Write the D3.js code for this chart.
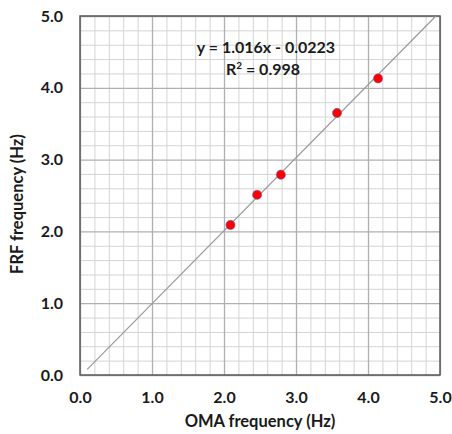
<!DOCTYPE html>
<html>
<head>
<meta charset="utf-8">
<script src="https://cdn.jsdelivr.net/npm/d3@7"></script>
<style>
  body { margin: 0; background: #fff; }
  text { font-family: Lato, "Open Sans", sans-serif; font-weight: 700; fill: #1a1a1a; }
</style>
</head>
<body>
<div id="chart"></div>
<script>
// data
var omaFreq = [2.09, 2.46, 2.79, 3.57, 4.14];
var frfFreq = [2.09, 2.51, 2.79, 3.65, 4.13];
var tickValues = [0, 1, 2, 3, 4, 5];
var fitSlope = 1.016;
var fitIntercept = -0.0223;
var fitRange = [0.1, 4.94];
var eqLabel = "y = 1.016x - 0.0223";
var r2Label = "0.998";

var svgWidth = 452, svgHeight = 434;
var margin = { top: 16, right: 12, bottom: 59, left: 80 };
var chartWidth = svgWidth - margin.left - margin.right;
var chartHeight = svgHeight - margin.top - margin.bottom;

var svg = d3.select("#chart").append("svg")
  .attr("width", svgWidth)
  .attr("height", svgHeight);

var chartGroup = svg.append("g")
  .attr("transform", `translate(${margin.left}, ${margin.top})`);

var xScale = d3.scaleLinear().domain([0, 5]).range([0, chartWidth]);
var yScale = d3.scaleLinear().domain([0, 5]).range([chartHeight, 0]);

// minor grid every 0.2
var minor = d3.range(0, 5.001, 0.2).filter(v => Math.abs(v - Math.round(v)) > 1e-6);
chartGroup.append("g").call(d3.axisBottom(xScale).tickValues(minor).tickSize(-chartHeight).tickFormat(""))
  .attr("transform", `translate(0, ${chartHeight})`)
  .call(g => g.select(".domain").remove())
  .call(g => g.selectAll("line").attr("stroke", "#d4d4d4"));
chartGroup.append("g").call(d3.axisLeft(yScale).tickValues(minor).tickSize(-chartWidth).tickFormat(""))
  .call(g => g.select(".domain").remove())
  .call(g => g.selectAll("line").attr("stroke", "#d4d4d4"));

// major grid
chartGroup.append("g").call(d3.axisBottom(xScale).tickValues(tickValues).tickSize(-chartHeight).tickFormat(""))
  .attr("transform", `translate(0, ${chartHeight})`)
  .call(g => g.select(".domain").remove())
  .call(g => g.selectAll("line").attr("stroke", "#b0b0b0").attr("stroke-width", 1.3));
chartGroup.append("g").call(d3.axisLeft(yScale).tickValues(tickValues).tickSize(-chartWidth).tickFormat(""))
  .call(g => g.select(".domain").remove())
  .call(g => g.selectAll("line").attr("stroke", "#b0b0b0").attr("stroke-width", 1.3));

// tick labels
var xAxis = chartGroup.append("g")
  .attr("transform", `translate(0, ${chartHeight})`)
  .call(d3.axisBottom(xScale).tickValues(tickValues).tickSize(0).tickPadding(17).tickFormat(d3.format(".1f")));
xAxis.select(".domain").remove();
xAxis.selectAll("text").attr("font-size", "16px").attr("font-family", null);

var yAxis = chartGroup.append("g")
  .call(d3.axisLeft(yScale).tickValues(tickValues).tickSize(0).tickPadding(17).tickFormat(d3.format(".1f")));
yAxis.select(".domain").remove();
yAxis.selectAll("text").attr("font-size", "16px").attr("font-family", null);

// frame
chartGroup.append("rect")
  .attr("width", chartWidth).attr("height", chartHeight)
  .attr("fill", "none").attr("stroke", "#5a5a5a").attr("stroke-width", 1.5);

// trend line
var line = d3.line().x(d => xScale(d)).y(d => yScale(fitSlope * d + fitIntercept));
chartGroup.append("path")
  .datum(fitRange)
  .attr("d", line)
  .attr("fill", "none")
  .attr("stroke", "#9a9a9a")
  .attr("stroke-width", 1.2);

// points
chartGroup.selectAll("circle")
  .data(omaFreq)
  .enter()
  .append("circle")
    .attr("cx", d => xScale(d))
    .attr("cy", (d, i) => yScale(frfFreq[i]))
    .attr("r", 4.6)
    .attr("fill", "#ff0000")
    .attr("stroke", "#6a6ab8")
    .attr("stroke-width", 0.6);

// equation
chartGroup.append("text")
  .attr("x", 186).attr("y", 37)
  .attr("text-anchor", "middle")
  .attr("font-size", "16px")
  .text(eqLabel);
var r2 = chartGroup.append("text")
  .attr("x", 183).attr("y", 59)
  .attr("text-anchor", "middle")
  .attr("font-size", "16px");
r2.append("tspan").text("R");
r2.append("tspan").attr("dy", -6).attr("font-size", "10px").text("2");
r2.append("tspan").attr("dy", 6).text(" = " + r2Label);

// axis titles
svg.append("text")
  .attr("x", margin.left + chartWidth / 2)
  .attr("y", 427)
  .attr("text-anchor", "middle")
  .attr("font-size", "16.5px")
  .text("OMA frequency (Hz)");

svg.append("text")
  .attr("transform", "translate(23, 204) rotate(-90)")
  .attr("text-anchor", "middle")
  .attr("font-size", "16.5px")
  .text("FRF frequency (Hz)");
</script>
</body>
</html>
